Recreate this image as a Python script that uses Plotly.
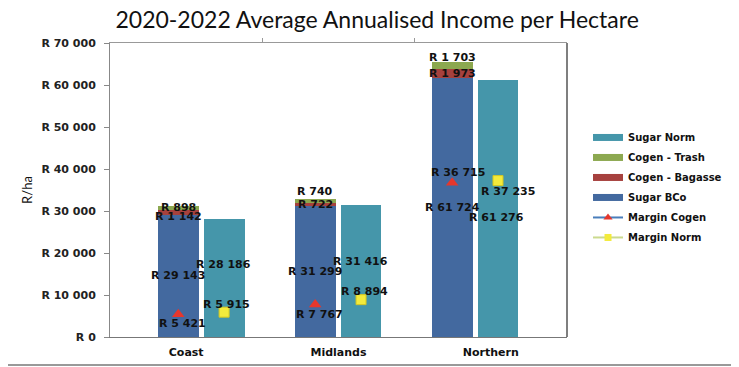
import plotly.graph_objects as go

categories = ["Coast", "Midlands", "Northern"]
sugar_bco = [29143, 31299, 61724]
cogen_bagasse = [1142, 722, 1973]
cogen_trash = [898, 740, 1703]
sugar_norm = [28186, 31416, 61276]
margin_cogen = [5421, 7767, 36715]
margin_norm = [5915, 8894, 37235]

title_text = "2020-2022 Average Annualised Income per Hectare"
y_title = "R/ha"

# colours
C_BCO = "#43699F"
C_NORM = "#4596AA"
C_BAG = "#A6413E"
C_TRASH = "#8CA850"
C_TRI = "#E5372D"
C_SQ = "#F3EB3C"

# bar geometry (axis units; categories sit at 0.5, 1.5, 2.5)
group_start = 0.448
group_step = 0.899
teal_offset = 0.301
bar_w = 0.268
n = len(categories)
x_blue = [group_start + group_step * i for i in range(n)]
x_teal = [x + teal_offset for x in x_blue]

LBL_FONT = dict(family="DejaVu Sans", size=11, color="#111", weight="bold")


def rand(v):
    return "R " + f"{v:,}".replace(",", " ")


fig = go.Figure()
fig.add_bar(x=x_blue, y=sugar_bco, width=bar_w, marker=dict(color=C_BCO, line=dict(width=0)),
            name="Sugar BCo", showlegend=False)
fig.add_bar(x=x_blue, y=cogen_bagasse, width=bar_w, marker=dict(color=C_BAG, line=dict(width=0)),
            name="Cogen - Bagasse", showlegend=False)
fig.add_bar(x=x_blue, y=cogen_trash, width=bar_w, marker=dict(color=C_TRASH, line=dict(width=0)),
            name="Cogen - Trash", showlegend=False)
fig.add_bar(x=x_teal, y=sugar_norm, width=bar_w, marker=dict(color=C_NORM, line=dict(width=0)),
            name="Sugar Norm", showlegend=False)
fig.add_scatter(x=x_blue, y=margin_cogen, mode="markers", name="Margin Cogen", showlegend=False,
                marker=dict(symbol="triangle-up", size=11, color=C_TRI))
fig.add_scatter(x=x_teal, y=margin_norm, mode="markers", name="Margin Norm", showlegend=False,
                marker=dict(symbol="square", size=10, color=C_SQ, line=dict(color="#D6C820", width=1)))

# legend entries
leg = [
    ("Sugar Norm", C_NORM, 1),
    ("Cogen - Trash", C_TRASH, 2),
    ("Cogen - Bagasse", C_BAG, 3),
    ("Sugar BCo", C_BCO, 4),
]
for name, col, rank in leg:
    fig.add_scatter(x=[None], y=[None], mode="lines", name=name, legendrank=rank, legendgroup=name,
                    xaxis="x2", line=dict(color=col, width=7))
fig.add_scatter(x=[None], y=[None], mode="lines+markers", name="Margin Cogen", legendrank=5,
                legendgroup="mc", xaxis="x2",
                line=dict(color="#4A7EBB", width=2), marker=dict(symbol="triangle-up", size=8, color=C_TRI))
fig.add_scatter(x=[None], y=[None], mode="lines+markers", name="Margin Norm", legendrank=6,
                legendgroup="mn", xaxis="x2",
                line=dict(color="#CBDA8E", width=2), marker=dict(symbol="square", size=7, color=C_SQ))

ann = []
for i in range(n):
    ann.append(dict(x=x_blue[i], y=sugar_bco[i] / 2, text=rand(sugar_bco[i]), xshift=0, yshift=0))
bag_shift = [-4, 0, 0]
for i in range(n):
    ann.append(dict(x=x_blue[i], y=sugar_bco[i] + cogen_bagasse[i] / 2, text=rand(cogen_bagasse[i]),
                    xshift=0, yshift=bag_shift[i]))
trash_shift = [0, 9, 8]
for i in range(n):
    ann.append(dict(x=x_blue[i], y=sugar_bco[i] + cogen_bagasse[i] + cogen_trash[i] / 2,
                    text=rand(cogen_trash[i]), xshift=0, yshift=trash_shift[i]))
norm_shift = [13, 10, -9]
for i in range(n):
    ann.append(dict(x=x_teal[i], y=sugar_norm[i] / 2, text=rand(sugar_norm[i]), xshift=-1, yshift=norm_shift[i]))
mc_shift = [(4, -9), (4, -10), (6, 10)]
for i in range(n):
    ann.append(dict(x=x_blue[i], y=margin_cogen[i], text=rand(margin_cogen[i]),
                    xshift=mc_shift[i][0], yshift=mc_shift[i][1]))
mn_shift = [(2, 8), (3, 8), (10, -11)]
for i in range(n):
    ann.append(dict(x=x_teal[i], y=margin_norm[i], text=rand(margin_norm[i]),
                    xshift=mn_shift[i][0], yshift=mn_shift[i][1]))
for a in ann:
    a.update(showarrow=False, font=LBL_FONT, xref="x", yref="y")

# the page body adds an 8px offset; figure is sized so it fits the 739x367 window
fig.update_layout(
    width=731, height=359,
    margin=dict(l=102, r=170, t=35, b=30),
    paper_bgcolor="white", plot_bgcolor="white",
    barmode="stack",
    separators=". ",
    title=dict(text=title_text, x=0.505, xanchor="center", y=0.99, yanchor="top",
               font=dict(family="Lato", size=23, color="#111")),
    xaxis=dict(range=[0, 3], tickvals=[0.5, 1.5, 2.5], ticktext=categories, ticks="",
               showline=True, linecolor="#777", linewidth=1, showgrid=False, zeroline=False,
               tickfont=dict(family="DejaVu Sans", size=11, color="#111", weight="bold"),
               ticklabelstandoff=5, automargin=False),
    xaxis2=dict(range=[0, 3], overlaying="x", side="top", tickvals=[1, 2], ticks="outside",
                ticklen=4, tickcolor="#999", showticklabels=False, showline=True, linecolor="#999",
                showgrid=False, zeroline=False, anchor="y", automargin=False),
    yaxis=dict(range=[0, 70000], dtick=10000, tickformat=",d", tickprefix="R ",
               ticks="outside", ticklen=5, tickcolor="#888", showline=True, linecolor="#888",
               showgrid=False, zeroline=False, ticklabelstandoff=6, automargin=False,
               tickfont=dict(family="DejaVu Sans", size=11, color="#222", weight="bold"),
               title=dict(text=y_title, font=dict(family="Lato", size=13, color="#111"), standoff=5)),
    legend=dict(x=1.046, xanchor="left", y=0.728, yanchor="top", bgcolor="rgba(0,0,0,0)",
                traceorder="grouped",
                font=dict(family="DejaVu Sans", size=10, color="#111", weight="bold"),
                itemwidth=30, tracegroupgap=1),
    annotations=ann,
    shapes=[
        dict(type="line", xref="paper", yref="paper", x0=1, x1=1, y0=0, y1=1,
             line=dict(color="#555", width=1.5)),
        dict(type="line", xref="paper", yref="paper", x0=-0.3, x1=1.4, y0=-0.095, y1=-0.095,
             line=dict(color="#999", width=2)),
    ],
    showlegend=True,
)

fig.write_html("out.html")
